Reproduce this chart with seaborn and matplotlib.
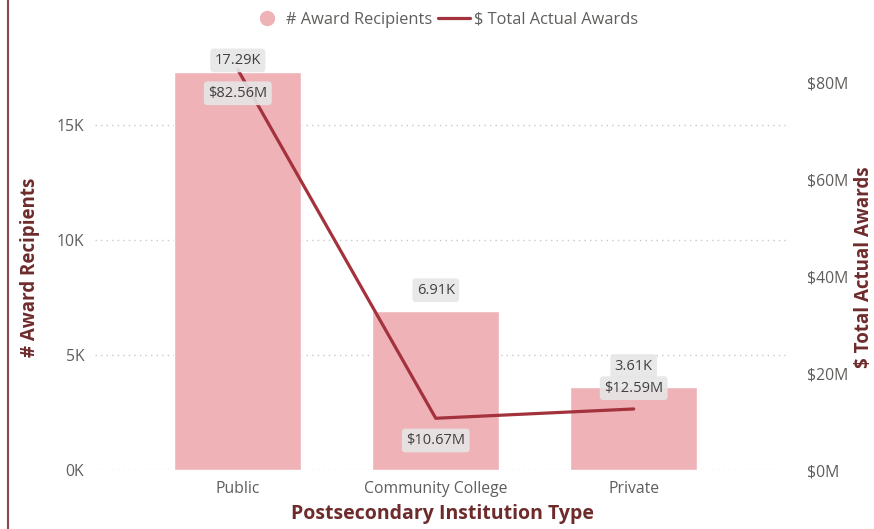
import matplotlib
matplotlib.use("Agg")
import matplotlib.pyplot as plt
import seaborn as sns
import pandas as pd
from matplotlib.lines import Line2D
from matplotlib.ticker import FuncFormatter

# 数据
categories = ["Public", "Community College", "Private"]
recipients = [17290, 6910, 3610]
awards_m = [82.56, 10.67, 12.59]

bar_color = "#EEB2B7"
line_color = "#A3323C"
title_color = "#6E2B2B"
tick_color = "#605E5C"

sns.set_theme(style="white")
plt.rcParams["font.family"] = ["Open Sans", "DejaVu Sans"]

df = pd.DataFrame({"type": categories, "recipients": recipients, "awards": awards_m})

left_max = 17600
right_max = 83.5

fig = plt.figure(figsize=(8.74, 5.29), dpi=100)
ax = fig.add_axes([0.109, 0.1115, 0.795, 0.7655])

# 柱状图：获奖人数
sns.barplot(data=df, x="type", y="recipients", color=bar_color, width=0.64,
            saturation=1, ax=ax, zorder=2)
ax.set_xlim(-0.72, 2.79)
ax.set_ylim(0, left_max)
ax.set_yticks([0, 5000, 10000, 15000])
ax.yaxis.set_major_formatter(FuncFormatter(lambda v, p: f"{int(v / 1000)}K"))
ax.grid(axis="y", linestyle=(0, (1, 3)), color="#C8C8C8", linewidth=1, zorder=0)
ax.set_axisbelow(True)
for s in ax.spines.values():
    s.set_visible(False)
ax.tick_params(axis="both", length=0, colors=tick_color, labelsize=11.3, pad=8)
ax.set_xlabel("Postsecondary Institution Type", fontsize=14, fontweight="bold",
              color=title_color, labelpad=5)
ax.set_ylabel("# Award Recipients", fontsize=13.5, fontweight="bold",
              color=title_color, labelpad=12)

# 折线图：奖金总额（右轴）
ax2 = ax.twinx()
sns.lineplot(x=[0, 1, 2], y=awards_m, color=line_color, linewidth=2.3, ax=ax2,
             zorder=3)
ax2.set_ylim(0, right_max)
ax2.set_yticks([0, 20, 40, 60, 80])
ax2.yaxis.set_major_formatter(FuncFormatter(lambda v, p: f"${int(v)}M"))
for s in ax2.spines.values():
    s.set_visible(False)
ax2.tick_params(axis="y", length=0, colors=tick_color, labelsize=11.3, pad=12)
ax2.set_ylabel("")

# 数据标签
box = dict(boxstyle="round,pad=0.3,rounding_size=0.25", facecolor="#E6E6E6",
           edgecolor="none", alpha=0.9)
bar_offsets = [8.5, 15, 15]
line_offsets = [-17, -16, 15]
for i, v in enumerate(recipients):
    ax2.annotate(f"{v / 1000:.2f}K", xy=(i, v / left_max * right_max),
                 xytext=(0, bar_offsets[i]), textcoords="offset points",
                 ha="center", va="center", fontsize=10.5, color="#404040",
                 bbox=box, zorder=5)
for i, v in enumerate(awards_m):
    ax2.annotate(f"${v:.2f}M", xy=(i, v), xytext=(0, line_offsets[i]),
                 textcoords="offset points", ha="center", va="center",
                 fontsize=10.5, color="#404040", bbox=box, zorder=5)

fig.text(0.988, 0.495, "$ Total Actual Awards", rotation=90, ha="center", va="center",
         fontsize=13.5, fontweight="bold", color=title_color)

# 图例
handles = [
    Line2D([], [], marker="o", linestyle="none", markersize=10, markerfacecolor=bar_color,
           markeredgecolor=bar_color),
    Line2D([], [], color=line_color, linewidth=2.3),
]
fig.legend(handles, ["# Award Recipients", "$ Total Actual Awards"], loc="center",
           bbox_to_anchor=(0.508, 0.963), ncol=2, frameon=False, fontsize=11.8,
           handlelength=2.0, handletextpad=0.2, columnspacing=0.3, labelcolor=tick_color,
           borderaxespad=0)

# 左侧边框线
fig.add_artist(Line2D([0.009, 0.009], [0, 1], color="#8B4A4A", linewidth=1.5,
                      transform=fig.transFigure))

fig.savefig("out.png", dpi=100)
